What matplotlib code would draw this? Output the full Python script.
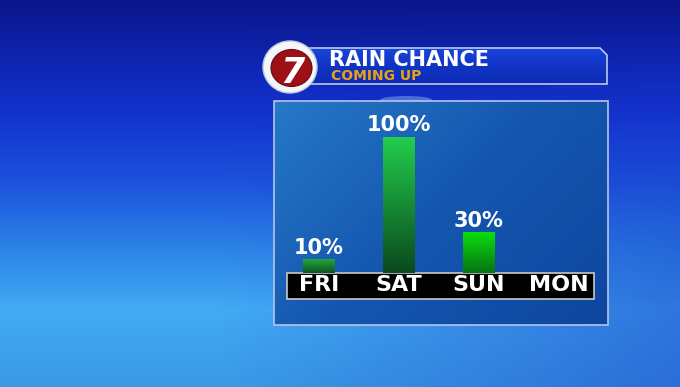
import numpy as np
import matplotlib.pyplot as plt
from matplotlib.patches import Rectangle, Polygon, Ellipse
from matplotlib.colors import LinearSegmentedColormap, to_rgb

days = ["FRI", "SAT", "SUN", "MON"]
rain_chance = [10, 100, 30]
title = "RAIN CHANCE"
subtitle = "COMING UP"
logo_text = "7"

W, H = 680, 387
fig = plt.figure(figsize=(W / 100, H / 100), dpi=100)

# background in pixel coordinates
bg = fig.add_axes([0, 0, 1, 1])
bg.set_xlim(0, W)
bg.set_ylim(H, 0)
bg.axis("off")

yy, xx = np.mgrid[0:H, 0:W]
t = yy / (H - 1.0)
bg_cmap = LinearSegmentedColormap.from_list(
    "bg", [(0, "#0a168c"), (0.28, "#1230cc"), (0.47, "#1c52dc"),
           (0.66, "#2e88e8"), (0.8, "#42aaf4"), (1.0, "#3a9ae6")])
img = bg_cmap(t)[..., :3]
dark = np.array(to_rgb("#1838c4"))
k = 0.45 * np.clip((xx - 220) / 460.0, 0, 1) * np.clip(t * 1.3, 0, 1)
img = img * (1 - k[..., None]) + dark * k[..., None]
bg.imshow(img, extent=(0, W, H, 0), aspect="auto", zorder=0)

# panel
panel_cmap = LinearSegmentedColormap.from_list("panel", ["#2678c8", "#1456ae", "#0e46a0"])
py, px = np.mgrid[0:60, 0:90]
pw = (px / 89.0) * 0.6 + (py / 59.0) * 0.4
bg.imshow(panel_cmap(pw), extent=(274, 608, 325, 101), aspect="auto", zorder=1)
bg.add_patch(Rectangle((274, 101), 334, 224, fc="none", ec="#b4c6e8", lw=1.2, zorder=2))
bg.add_patch(Ellipse((406, 100), 52, 8, fc="#6c9ce8", ec="none", alpha=0.6, zorder=0.5))

# label strip
bg.add_patch(Rectangle((287, 273), 307, 26, fc="black", ec="#c8c8c8", lw=1.2, zorder=2))

# title ribbon
ribbon = Polygon([(300, 48), (600, 48), (607, 55), (607, 84), (300, 84)], closed=True,
                 fc="none", ec="#b8c8f0", lw=1.2, zorder=4)
rib_cmap = LinearSegmentedColormap.from_list("rib", ["#1a44dc", "#1034c4", "#0c2cb4"])
rib = bg.imshow(rib_cmap(np.linspace(0, 1, 40)[:, None] * np.ones((1, 4))),
                extent=(300, 607, 84, 48), aspect="auto", zorder=3)
bg.add_patch(ribbon)
rib.set_clip_path(ribbon)

bg.text(329, 66.5, title, color="white", fontsize=15, fontweight="bold",
        ha="left", va="baseline", zorder=5)
bg.text(331, 80, subtitle, color="#eaa214", fontsize=10, fontweight="bold",
        ha="left", va="baseline", zorder=5)

# logo
bg.add_patch(Ellipse((290, 67), 54, 52, fc="#f4f6fa", ec="#c0c8d8", lw=1, zorder=6))
bg.add_patch(Ellipse((291.5, 68), 41, 37, fc="#9c1016", ec="#6a0a0e", lw=0.8, zorder=7))
bg.text(292, 83, logo_text, color="white", fontsize=25, fontweight="bold", style="italic",
        ha="center", va="baseline", zorder=8)

bg.set_xlim(0, W)
bg.set_ylim(H, 0)

# bar chart
ax = fig.add_axes([287 / W, (H - 273) / H, (594 - 287) / W, (273 - 137) / H])
ax.patch.set_alpha(0)
for s in ax.spines.values():
    s.set_visible(False)

bar_grads = [("#22a83e", "#0c5224"), ("#22cc4c", "#0b4a1e"), ("#0ade0e", "#067412")]
bars = ax.bar(range(len(rain_chance)), rain_chance, width=0.4, color="none", zorder=2)
for rect, (top, bot) in zip(bars, bar_grads):
    x0, h = rect.get_x(), rect.get_height()
    cm = LinearSegmentedColormap.from_list("b", [top, bot])
    ax.imshow(cm(np.linspace(0, 1, 50))[:, None, :], aspect="auto",
              extent=(x0, x0 + rect.get_width(), 0, h), zorder=1)

for i, v in enumerate(rain_chance):
    ax.annotate(f"{v}%", (i, v), xytext=(0, 4), textcoords="offset points",
                ha="center", va="baseline", color="white", fontsize=15, fontweight="bold")

ax.set_xlim(-0.4, 3.44)
ax.set_ylim(0, 100)
ax.set_yticks([])
ax.set_xticks(range(len(days)))
ax.set_xticklabels(days, color="white", fontsize=16, fontweight="bold")
ax.tick_params(axis="x", length=0, pad=1.5)

fig.savefig("out.png", dpi=100)
